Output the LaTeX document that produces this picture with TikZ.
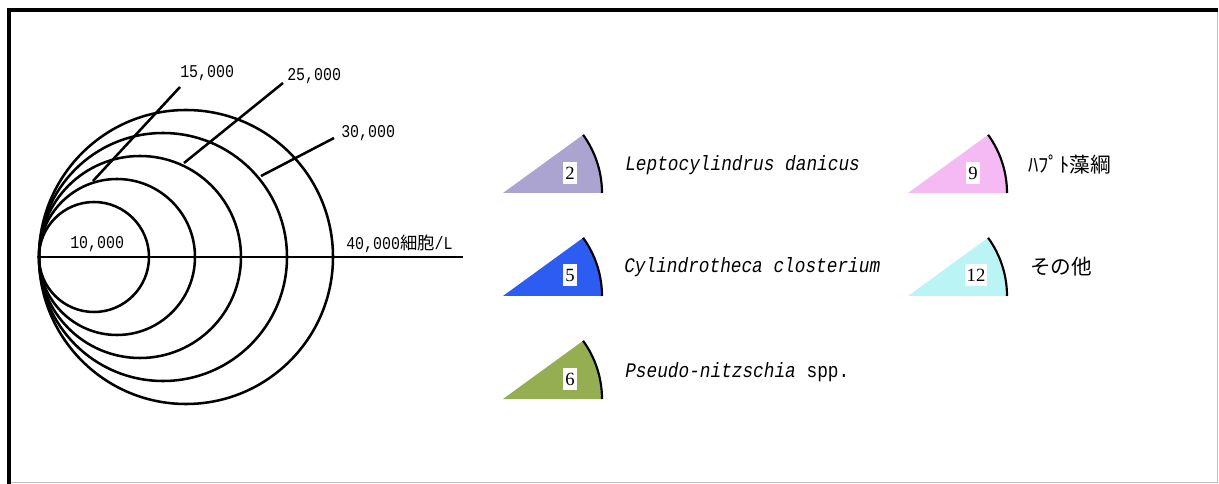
\documentclass[tikz,border=0pt]{standalone}
\usepackage{fontspec}
\usepackage{tikz}
\usetikzlibrary{calc}
\newfontfamily\labelfont[FakeStretch=0.83]{Liberation Mono}
\newfontfamily\legendfont[FakeStretch=0.86]{Liberation Mono}
\newfontfamily\jpfont{Noto Sans CJK JP}
\newfontfamily\badgefont{Liberation Serif}
\definecolor{lpurple}{HTML}{ABA3D0}
\definecolor{lblue}{HTML}{2D5CF2}
\definecolor{lgreen}{HTML}{95AE52}
\definecolor{lpink}{HTML}{F5BAF3}
\definecolor{lcyan}{HTML}{BAF4F4}
\tikzset{
	ring/.style={line width=1.9pt},
	scale label/.style={anchor=west, inner sep=0pt, font=\labelfont\fontsize{13.5}{15}\selectfont},
	legend text/.style={anchor=west, inner sep=0pt, font=\legendfont\fontsize{15.5}{17}\selectfont},
	legend jp/.style={anchor=west, inner sep=0pt, font=\jpfont\fontsize{15.5}{18}\selectfont},
	badge/.style={fill=white, inner sep=1.6pt, minimum height=16pt, font=\badgefont\fontsize{14}{16}\selectfont},
	legend sector/.pic={
		\fill[pic actions] (0,0) -- (99,0) arc[start angle=0, end angle=-36, radius=99] -- cycle;
		\draw[line width=1.6pt] (99,0) arc[start angle=0, end angle=-36, radius=99];
	},
}
\begin{document}
\begin{tikzpicture}[x=0.75pt, y=-0.75pt]
	\useasboundingbox (0,0) rectangle (1219,484);
	\fill[white] (0,0) rectangle (1219,484);
	% frame
	\draw[gray!50, line width=0.7pt] (1217,10) -- (1217,482) -- (9,482);
	\draw[line width=2.6pt] (9,484) -- (9,10) -- (1218,10);

	\coordinate (o) at (39,257);
	\coordinate (axisend) at (463,257);
	\draw[ring] (o) ++(55,0) circle[radius=55];
	\draw[ring] (o) ++(78,0) circle[radius=78];
	\draw[ring] (o) ++(101,0) circle[radius=101];
	\draw[ring] (o) ++(124,0) circle[radius=124];
	\draw[ring] (o) ++(147,0) circle[radius=147];
	\draw[ring] (o) -- (axisend);

	\coordinate (e15) at (93,181);
	\coordinate (t15) at (180,87);
	\coordinate (e25) at (184,163);
	\coordinate (t25) at (283,83);
	\coordinate (e30) at (261,176);
	\coordinate (t30) at (334,138);
	\draw[ring] (e15) -- (t15);
	\draw[ring] (e25) -- (t25);
	\draw[ring] (e30) -- (t30);

	\node[scale label] (l15) at (180,73) {15,000};
	\node[scale label] (l25) at (287,76) {25,000};
	\node[scale label] (l30) at (341,133) {30,000};
	\node[scale label] (l10) at (70,244) {10,000};
	\node[scale label] (l40) at (346,244) {40,000{\jpfont\fontsize{13}{14}\selectfont 細胞}/L};

	\pic (s2) [fill=lpurple] at (503,193) {legend sector};
	\pic (s5) [fill=lblue] at (503,296) {legend sector};
	\pic (s6) [fill=lgreen] at (503,399) {legend sector};
	\pic (s9) [fill=lpink] at (908,193) {legend sector};
	\pic (s12) [fill=lcyan] at (908,296) {legend sector};

	\node[badge] (n2) at (570,173) {2};
	\node[badge] (n5) at (570,275) {5};
	\node[badge] (n6) at (570,379) {6};
	\node[badge] (n9) at (973,173) {9};
	\node[badge] (n12) at (976,275) {12};

	\node[legend text] (t2) at (625,165) {\itshape Leptocylindrus danicus};
	\node[legend text] (t5) at (624,267) {\itshape Cylindrotheca closterium};
	\node[legend text] (t6) at (625,372) {\textit{Pseudo-nitzschia} spp.};
	\node[legend jp] (t9) at (1028,165) {ﾊﾌﾟﾄ藻綱};
	\node[legend jp] (t12) at (1030,267) {その他};
\end{tikzpicture}
\end{document}
